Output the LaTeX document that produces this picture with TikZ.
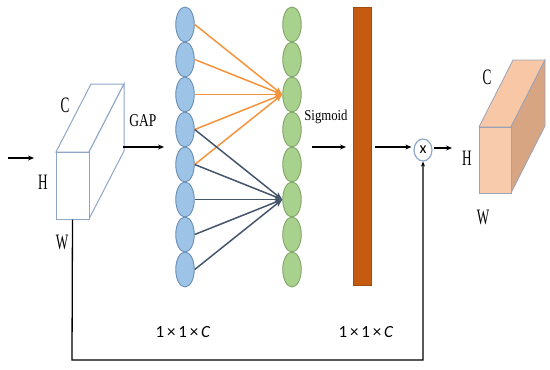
\documentclass[tikz,border=0pt]{standalone}
\usepackage{fontspec}
\setmainfont{Liberation Serif}
\newfontfamily\calib{Carlito}
\usetikzlibrary{shapes.geometric,arrows.meta}
\definecolor{bfill}{HTML}{9DC3E6}
\definecolor{bdraw}{HTML}{6A8DB5}
\definecolor{gfill}{HTML}{A9D18E}
\definecolor{gdraw}{HTML}{7FA464}
\definecolor{orng}{HTML}{F4933C}
\definecolor{slate}{HTML}{44546A}
\definecolor{barfill}{HTML}{C55A11}
\definecolor{bardraw}{HTML}{A44A0E}
\definecolor{boxedge}{HTML}{8EA6C8}
\definecolor{peach}{HTML}{F8CBAD}
\definecolor{peachtop}{HTML}{F7C7A6}
\definecolor{peachside}{HTML}{D8A583}
\definecolor{peachedge}{HTML}{9AA3B8}
\newcommand{\lbl}[3]{\scalebox{#2}[1]{\fontsize{#1}{#1}\selectfont #3}}
\begin{document}
\begin{tikzpicture}[x=1pt,y=-1pt,
  bnode/.style={ellipse,draw=bdraw,fill=bfill,line width=0.9pt,minimum width=18.5pt,minimum height=35pt,inner sep=0pt},
  gnode/.style={ellipse,draw=gdraw,fill=gfill,line width=0.9pt,minimum width=18.5pt,minimum height=35pt,inner sep=0pt},
  blk/.style={line width=1.4pt,-{Stealth[length=6pt,width=5pt]}},
  olink/.style={orng,line width=1.5pt,-{Stealth[length=8pt,width=6pt]}},
  dlink/.style={slate,line width=1.5pt,-{Stealth[length=8pt,width=6pt]}},
  txt/.style={inner sep=0pt}]
\useasboundingbox (0,0) rectangle (550,370);
% left box
\fill[white,draw=boxedge,line width=1pt] (56,152) -- (91,84) -- (124,84) -- (89,152) -- cycle;
\fill[white,draw=boxedge,line width=1pt] (89,152) -- (124,84) -- (124,151) -- (89,219) -- cycle;
\node[draw=boxedge,fill=white,line width=1pt,minimum width=33pt,minimum height=67pt,inner sep=0pt] (fb) at (72.5,185.5) {};
\node[txt] (lC) at (65,105) {\lbl{22}{0.6}{C}};
\node[txt] (lH) at (43,182) {\lbl{22}{0.6}{H}};
\node[txt] (lW) at (62,242) {\lbl{22}{0.6}{W}};
\node[txt] (lgap) at (143,121) {\lbl{18}{0.75}{GAP}};
\coordinate (in1) at (8,158);
\coordinate (in2) at (34,158);
\draw[blk] (in1) -- (in2);
\coordinate (g1) at (123,147);
\coordinate (g2) at (164,147);
\draw[blk] (g1) -- (g2);
% columns
\foreach \i in {1,...,8}{
  \node[bnode] (b\i) at (185,{24.5+35*(\i-1)}) {};
  \node[gnode] (n\i) at (292,{24.5+35*(\i-1)}) {};
}
\foreach \i in {1,...,5}{ \draw[olink] (b\i.east) -- (n3.west); }
\foreach \i in {4,...,8}{ \draw[dlink] (b\i.east) -- (n6.west); }
% sigmoid + bar
\node[txt] (lsig) at (326,117) {\lbl{15}{0.85}{Sigmoid}};
\coordinate (s1) at (312,147);
\coordinate (s2) at (346,147);
\draw[blk] (s1) -- (s2);
\node[rectangle,draw=bardraw,fill=barfill,line width=0.8pt,minimum width=18pt,minimum height=278pt,inner sep=0pt] (bar) at (362,146) {};
\node[ellipse,draw=boxedge,fill=white,line width=1.2pt,minimum width=18pt,minimum height=22pt,inner sep=0pt] (mul) at (423,150) {\calib\fontsize{16}{16}\selectfont x};
\draw[blk,shorten <=4pt,shorten >=2pt] (bar.east |- 0,147) -- (mul.west |- 0,147);
\coordinate (o2) at (452,148);
\draw[blk,shorten <=1pt] (mul.east |- 0,148) -- (o2);
% feedback
\coordinate (c1) at (72,360);
\coordinate (c2) at (423,360);
\draw[line width=1.3pt,-{Stealth[length=5pt,width=4pt]}] (fb.south) -- (c1) -- (c2) -- (mul.south);
% labels 1x1xC
\node[txt] (d1) at (183,332) {\calib\fontsize{17}{17}\selectfont 1\,×\,1\,×\,\textit{C}};
\node[txt] (d2) at (366,332) {\calib\fontsize{17}{17}\selectfont 1\,×\,1\,×\,\textit{C}};
% right box
\fill[peachtop,draw=peachedge,line width=0.8pt] (479,127) -- (513,60) -- (545,60) -- (511,127) -- cycle;
\fill[peachside,draw=peachedge,line width=0.8pt] (511,127) -- (545,60) -- (545,126) -- (511,193) -- cycle;
\node[draw=peachedge,fill=peach,line width=0.8pt,minimum width=32pt,minimum height=66pt,inner sep=0pt] (rb) at (495,160) {};
\node[txt] (rC) at (487,77) {\lbl{22}{0.6}{C}};
\node[txt] (rH) at (467,158) {\lbl{22}{0.6}{H}};
\node[txt] (rW) at (483,217) {\lbl{22}{0.6}{W}};
\end{tikzpicture}
\end{document}
